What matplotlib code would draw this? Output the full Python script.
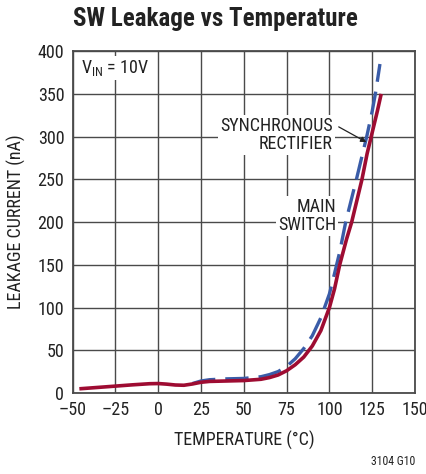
import matplotlib.pyplot as plt
from matplotlib import font_manager

# values
temp_main = [-45, -35, -25, -15, -5, 0, 5, 10, 15, 20, 25, 30, 40, 50, 60, 65, 70, 75, 80, 85, 90,
             95, 100, 103, 106, 110, 113, 116, 119, 122, 125, 128, 130]
main_switch = [5, 6.5, 8, 9.5, 10.8, 11, 10.3, 9.3, 9, 10.5, 12.5, 13.5, 14, 14.5, 16, 18, 21, 26, 33, 42, 55,
               73, 100, 122, 150, 180, 200, 225, 250, 280, 305, 330, 348]

temp_sync = [20, 25, 30, 40, 50, 60, 65, 70, 75, 80, 85, 90, 95, 100, 103, 106, 109.5, 113, 116, 119,
             122, 125, 127, 129.5]
sync_rect = [11, 14, 15.5, 16.5, 17, 19, 21.5, 25, 31, 40, 52, 67, 88, 116, 140, 165, 200, 228, 252, 277,
             302, 330, 352, 385]

xticks = [-50, -25, 0, 25, 50, 75, 100, 125, 150]
yticks = [0, 50, 100, 150, 200, 250, 300, 350, 400]

names = set(f.name for f in font_manager.fontManager.ttflist)
fam = 'Liberation Sans'
for cand in ['Roboto Condensed', 'Archivo Narrow', 'Liberation Sans Narrow']:
    if cand in names:
        fam = cand
        break
plt.rcParams['font.family'] = [fam, 'DejaVu Sans']
plt.rcParams['mathtext.fontset'] = 'custom'
plt.rcParams['mathtext.rm'] = fam

fig = plt.figure(figsize=(4.27, 4.74), dpi=100)
ax = fig.add_axes([0.170, 0.171, 0.802, 0.721])

gc = '#4a4a4a'
tc = '#222222'
ax.plot(temp_sync, sync_rect, color='#3a5ca8', lw=2.4, dashes=(7, 3), zorder=3)
ax.plot(temp_main, main_switch, color='#9e0c32', lw=2.6, zorder=4)

ax.set_xlim(-50, 150)
ax.set_ylim(0, 400)
ax.set_xticks(xticks)
ax.set_yticks(yticks)
ax.set_xticklabels([str(t).replace('-', '\u2013') for t in xticks])
ax.grid(True, color=gc, lw=1.0, zorder=0)
ax.set_axisbelow(True)
ax.tick_params(length=0, labelsize=13, pad=6, colors=tc)
for s in ax.spines.values():
    s.set_color(gc)
    s.set_linewidth(1.3)

ax.set_xlabel('TEMPERATURE (°C)', fontsize=13, color=tc, labelpad=8)
ax.set_ylabel('LEAKAGE CURRENT (nA)', fontsize=13, color=tc, labelpad=8)
fig.text(0.505, 0.935, 'SW Leakage vs Temperature', ha='center', va='bottom',
         fontsize=18, fontweight='bold', color=tc)

box = dict(facecolor='white', edgecolor='none', pad=1.5)
ax.text(-45, 380, '$\\mathregular{V_{IN}}$ = 10V', fontsize=13, ha='left', va='center',
        color=tc, bbox=box, zorder=5)
ax.text(102, 302, 'SYNCHRONOUS\nRECTIFIER', fontsize=13, ha='right', va='center',
        color=tc, linespacing=1.0, bbox=box, zorder=5)
ax.annotate('', xy=(123, 292), xytext=(104, 313),
            arrowprops=dict(arrowstyle='-|>', color=tc, lw=0.9, mutation_scale=8), zorder=5)
ax.text(104, 207, 'MAIN\nSWITCH', fontsize=13, ha='right', va='center',
        color=tc, linespacing=1.0, bbox=box, zorder=5)

fig.text(0.972, 0.012, '3104 G10', ha='right', va='bottom', fontsize=8.5, color=tc)

fig.savefig('out.png', dpi=100)
